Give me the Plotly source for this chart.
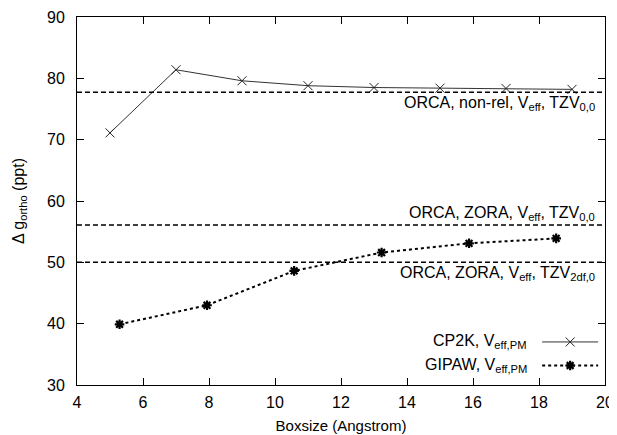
import plotly.graph_objects as go

cp2k_x = [5, 7, 9, 11, 13, 15, 17, 19]
cp2k_y = [71.1, 81.4, 79.6, 78.8, 78.5, 78.4, 78.35, 78.2]
gipaw_x = [5.29, 7.94, 10.58, 13.23, 15.88, 18.52]
gipaw_y = [39.9, 43.0, 48.6, 51.6, 53.1, 53.9]
ref_values = [77.75, 56.1, 50.0]
ref_labels = [
    "ORCA, non-rel, V<sub>eff</sub>, TZV<sub>0,0</sub>",
    "ORCA, ZORA, V<sub>eff</sub>, TZV<sub>0,0</sub>",
    "ORCA, ZORA, V<sub>eff</sub>, TZV<sub>2df,0</sub>",
]
ref_label_pos = ["below", "above", "below"]
legend_names = ["CP2K, V<sub>eff,PM</sub>", "GIPAW, V<sub>eff,PM</sub>"]
x_ticks = [4, 6, 8, 10, 12, 14, 16, 18, 20]
y_ticks = [30, 40, 50, 60, 70, 80, 90]

FONT = "Liberation Sans"
fig = go.Figure()

for v in ref_values:
    fig.add_hline(y=v, line=dict(color="black", width=1.5, dash="5px,3px"))

cp2k_marker = dict(symbol="x-thin-open", size=9, color="#222", line=dict(color="#222", width=1))
gipaw_marker = dict(symbol="asterisk-open", size=8, color="black", line=dict(color="black", width=2.2))
cp2k_line = dict(color="#333", width=1)
gipaw_line = dict(color="black", width=2, dash="3px,3px")

fig.add_trace(go.Scatter(x=cp2k_x, y=cp2k_y, mode="lines+markers",
                         line=cp2k_line, marker=cp2k_marker, showlegend=False))
fig.add_trace(go.Scatter(x=gipaw_x, y=gipaw_y, mode="lines+markers",
                         line=gipaw_line, marker=gipaw_marker, showlegend=False))

for v, lab, pos in zip(ref_values, ref_labels, ref_label_pos):
    fig.add_annotation(x=19.76, y=v, xref="x", yref="y", text=lab, showarrow=False,
                       xanchor="right", yanchor="top" if pos == "below" else "bottom",
                       yshift=0,
                       font=dict(family=FONT, size=16, color="black"))

# legend: text then line sample on the right, drawn on an overlay axis in 0..1 units
leg_y = [0.117, 0.053]
for ly, name, ln, mk in zip(leg_y, legend_names, [cp2k_line, gipaw_line], [cp2k_marker, gipaw_marker]):
    fig.add_trace(go.Scatter(x=[0.881, 0.934, 0.987], y=[ly, ly, ly], mode="lines",
                             line=ln, xaxis="x2", yaxis="y2", showlegend=False,
                             hoverinfo="skip"))
    fig.add_trace(go.Scatter(x=[0.934], y=[ly], mode="markers", marker=mk,
                             xaxis="x2", yaxis="y2", showlegend=False, hoverinfo="skip"))
    fig.add_annotation(x=0.856, y=ly, xref="x2", yref="y2", text=name, showarrow=False,
                       xanchor="right", yanchor="middle",
                       font=dict(family=FONT, size=16, color="black"))

axis_common = dict(showgrid=False, zeroline=False, showline=True, linecolor="black",
                   linewidth=1, mirror="ticks", ticks="inside", ticklen=7,
                   tickcolor="black", automargin=False,
                   tickfont=dict(family=FONT, size=16, color="black"))
fig.update_layout(
    width=609, height=427,
    margin=dict(l=69, r=12, t=9, b=50),
    paper_bgcolor="white", plot_bgcolor="white",
    xaxis=dict(range=[4, 20], tickvals=x_ticks, ticklabelstandoff=3,
               title=dict(text="Boxsize (Angstrom)", font=dict(family=FONT, size=15, color="black"), standoff=10),
               **axis_common),
    yaxis=dict(range=[30, 90], tickvals=y_ticks, ticklabelstandoff=8,
               title=dict(text="Δ g<sub>ortho</sub> (ppt)", font=dict(family=FONT, size=16, color="black"), standoff=18),
               **axis_common),
    xaxis2=dict(range=[0, 1], overlaying="x", visible=False),
    yaxis2=dict(range=[0, 1], overlaying="y", visible=False),
    showlegend=False,
)

fig.write_html("out.html")
